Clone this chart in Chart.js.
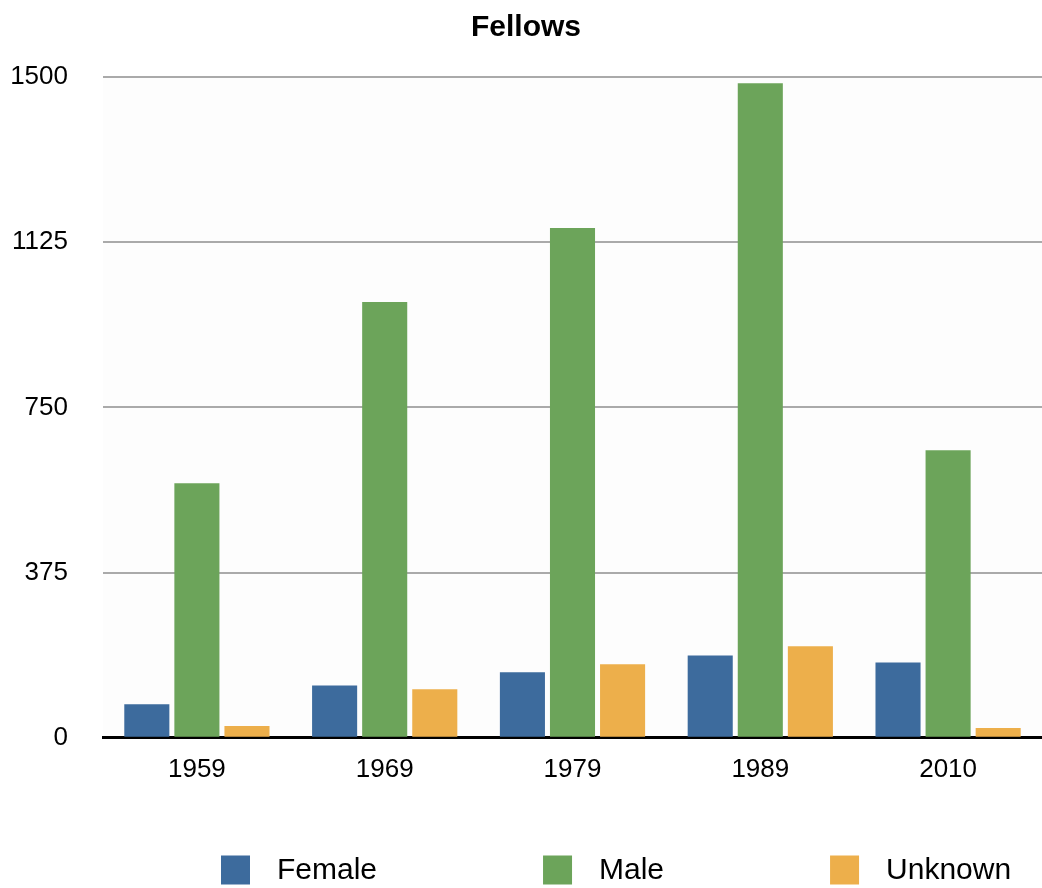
<!DOCTYPE html>
<html lang="en">
<head>
  <meta charset="UTF-8">
  <title>Fellows</title>
  <script src="https://cdn.jsdelivr.net/npm/chart.js"></script>
  <style>
    html, body { margin: 0; padding: 0; background: #fff; }
    #wrap { width: 1042px; height: 888px; }
  </style>
</head>
<body>
  <div id="wrap"><canvas id="fellowsChart"></canvas></div>

  <script>
    // Chart data
    const years = ['1959', '1969', '1979', '1989', '2010'];
    const female = [76, 119, 149, 187, 171];
    const male = [578, 989, 1157, 1486, 653];
    const unknown = [27, 110, 167, 208, 22];
    const yTicks = [0, 375, 750, 1125, 1500];

    const font = 'Liberation Sans, Arial, Helvetica, sans-serif';

    // light tint behind the plot area
    const plotBackground = {
      id: 'plotBackground',
      beforeDraw(chart) {
        const { ctx, chartArea } = chart;
        ctx.save();
        ctx.fillStyle = '#fdfdfd';
        ctx.fillRect(chartArea.left, chartArea.top, chartArea.right - chartArea.left, chartArea.bottom - chartArea.top);
        ctx.restore();
      }
    };

    // wide-spaced legend along the bottom (built-in legend wraps at this spacing)
    const spreadLegend = {
      id: 'spreadLegend',
      afterDraw(chart) {
        const ctx = chart.ctx;
        const boxW = 29, boxH = 29, textGap = 27, itemGap = 166;
        let x = 221;
        const y = 870;
        ctx.save();
        ctx.font = '30px ' + font;
        ctx.textBaseline = 'middle';
        chart.data.datasets.forEach(ds => {
          ctx.fillStyle = ds.backgroundColor;
          ctx.fillRect(x, y - boxH / 2, boxW, boxH);
          ctx.fillStyle = '#000';
          ctx.fillText(ds.label, x + boxW + textGap, y + 1);
          x += boxW + textGap + ctx.measureText(ds.label).width + itemGap;
        });
        ctx.restore();
      }
    };

    new Chart(document.getElementById('fellowsChart'), {
      type: 'bar',
      data: {
        labels: years,
        datasets: [
          { label: 'Female', data: female, backgroundColor: '#3d6b9d' },
          { label: 'Male', data: male, backgroundColor: '#6ca45a' },
          { label: 'Unknown', data: unknown, backgroundColor: '#edaf4b' }
        ]
      },
      options: {
        responsive: true,
        maintainAspectRatio: false,
        animation: false,
        categoryPercentage: 0.8,
        barPercentage: 0.9,
        layout: { padding: { left: 10, right: 0, top: 0, bottom: 95 } },
        plugins: {
          title: {
            display: true,
            text: 'Fellows',
            color: '#000',
            font: { family: font, size: 30, weight: 'bold' },
            padding: { top: 10, bottom: 31 }
          },
          legend: { display: false },
          tooltip: { enabled: false }
        },
        scales: {
          x: {
            grid: { display: false },
            border: { display: true, color: '#000', width: 3 },
            ticks: {
              color: '#000',
              font: { family: font, size: 26 },
              padding: 8
            }
          },
          y: {
            min: 0,
            max: 1500,
            afterBuildTicks(axis) {
              axis.ticks = yTicks.map(v => ({ value: v }));
            },
            afterFit(axis) {
              axis.width = 93;
            },
            grid: { color: '#aaaaaa', lineWidth: 2, drawTicks: false },
            border: { display: false },
            ticks: {
              color: '#000',
              font: { family: font, size: 26 },
              padding: 35,
              callback: v => String(v)
            }
          }
        }
      },
      plugins: [plotBackground, spreadLegend]
    });
  </script>
</body>
</html>
